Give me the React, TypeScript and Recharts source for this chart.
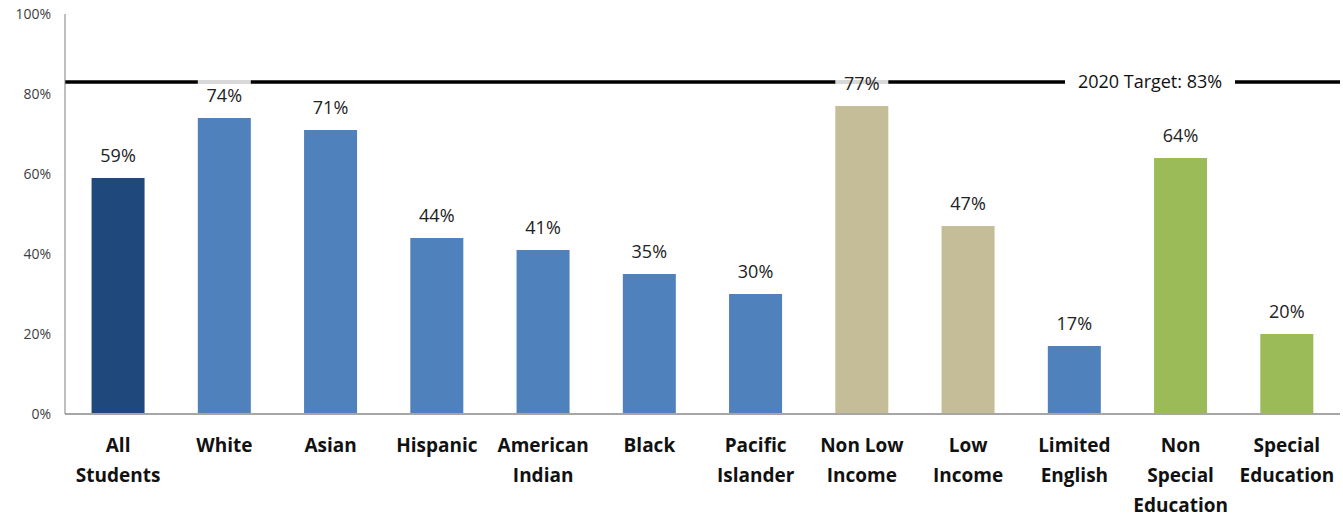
import React from "react";
import { BarChart, Bar, XAxis, YAxis, Cell, LabelList, ReferenceLine } from "recharts";

const categories = [
  "All|Students", "White", "Asian", "Hispanic", "American|Indian", "Black",
  "Pacific|Islander", "Non Low|Income", "Low|Income", "Limited|English",
  "Non|Special|Education", "Special|Education",
];
const values = [59, 74, 71, 44, 41, 35, 30, 77, 47, 17, 64, 20];
const colors = [
  "#1F497D", "#4F81BD", "#4F81BD", "#4F81BD", "#4F81BD", "#4F81BD",
  "#4F81BD", "#C4BD97", "#C4BD97", "#4F81BD", "#9BBB59", "#9BBB59",
];
const grayOverTarget = [false, true, false, false, false, false, false, true, false, false, false, false];
const yTicks = [0, 20, 40, 60, 80, 100];
const target = 83;
const targetLabel = "2020 Target: 83%";

const data = categories.map((c, i) => ({ name: c, value: values[i], idx: i }));

const FONT = "'Open Sans', 'Liberation Sans', sans-serif";

const BarShape = (props: any) => {
  const { x, y, width, height, fill, payload } = props;
  const v = payload.value;
  const base = y + height;
  const ty = base - (target * height) / v;
  return (
    <g>
      <rect x={x} y={y} width={width} height={height} fill={fill} />
      {grayOverTarget[payload.idx] && (
        <rect x={x} y={ty - 2} width={width} height={4} fill="#D9D9D9" />
      )}
    </g>
  );
};

const XTick = (props: any) => {
  const { x, y, payload } = props;
  const lines = String(payload.value).split("|");
  return (
    <text x={x} y={y + 30} textAnchor="middle" fontFamily={FONT} fontWeight={700} fontSize={19} fill="#111">
      {lines.map((l, i) => (
        <tspan key={i} x={x} dy={i === 0 ? 0 : 30}>{l}</tspan>
      ))}
    </text>
  );
};

const TargetLabel = (props: any) => {
  const { viewBox } = props;
  const cx = viewBox.x + viewBox.width * 0.851;
  const cy = viewBox.y;
  return (
    <g>
      <rect x={cx - 85} y={cy - 4} width={170} height={8} fill="#fff" />
      <text x={cx} y={cy + 6} textAnchor="middle" fontFamily={FONT} fontSize={18} fill="#111">{targetLabel}</text>
    </g>
  );
};

export default function App() {
  return (
    <div style={{ position: "absolute", left: 0, top: 0, width: 1343, height: 516, background: "#fff" }}>
      <BarChart width={1343} height={516} data={data} margin={{ top: 14, right: 3, left: 0, bottom: 0 }} barCategoryGap="25%">
        <ReferenceLine y={target} stroke="#000" strokeWidth={3.5} ifOverflow="visible" label={<TargetLabel />} {...({ zIndex: 250 } as any)} />
        <XAxis dataKey="name" interval={0} height={102} tick={<XTick />} tickLine={false} axisLine={{ stroke: "#A6A6A6", strokeWidth: 2 }} />
        <YAxis domain={[0, 100]} ticks={yTicks} width={65} tickFormatter={(v: number) => `${v}%`} tickLine={false}
          axisLine={{ stroke: "#7F7F7F", strokeWidth: 1 }} tick={{ fontFamily: FONT, fontSize: 14, fill: "#404040", dx: -6 }} />
        <Bar dataKey="value" isAnimationActive={false} shape={<BarShape />} {...({ zIndex: 300 } as any)}>
          {data.map((d, i) => <Cell key={i} fill={colors[i]} />)}
          <LabelList dataKey="value" position="top" offset={16} formatter={(v: number) => `${v}%`}
            style={{ fontFamily: FONT, fontSize: 18, fill: "#222" }} />
        </Bar>
      </BarChart>
    </div>
  );
}
